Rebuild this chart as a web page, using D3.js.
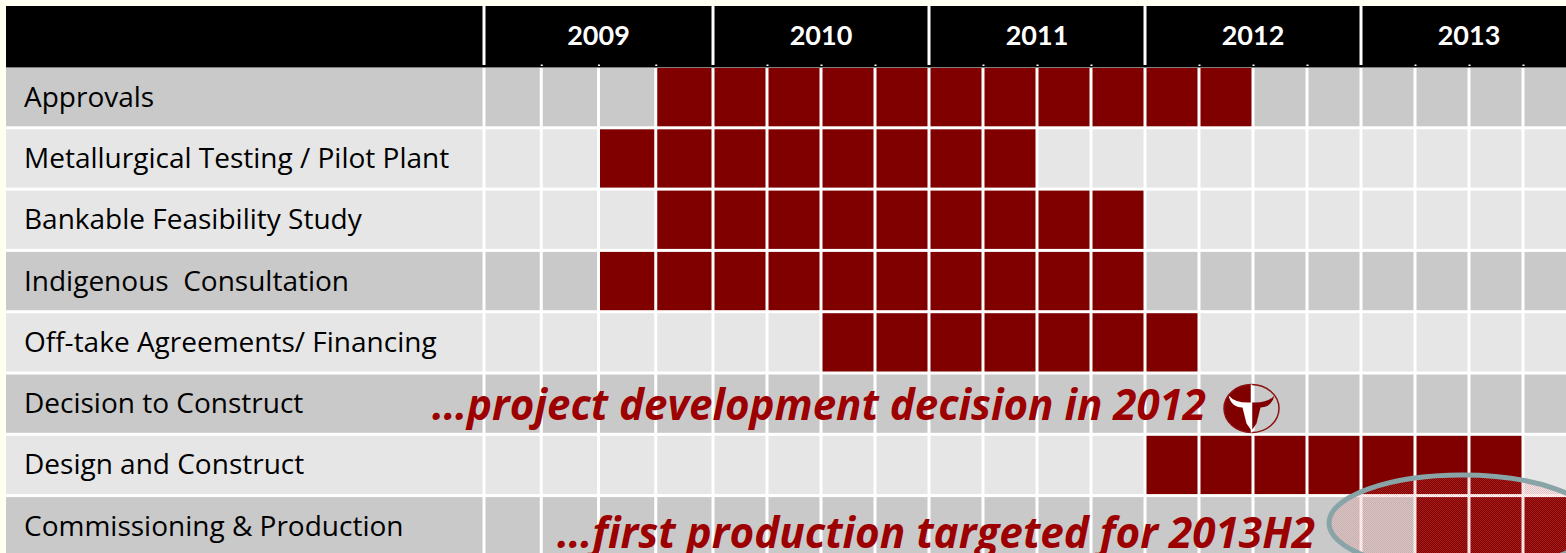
<!DOCTYPE html>
<html>
<head>
<meta charset="utf-8">
<style>
    body {
        margin: 0;
        background: #fffff2;
        overflow: hidden;
    }

    .label {
        font: 28px "Open Sans", sans-serif;
        fill: #000;
    }

    .year {
        font: bold 27px Lato, sans-serif;
        fill: #fff;
    }

    .note {
        font: italic bold 43px "Open Sans", sans-serif;
        fill: #9c0000;
    }

    .qtick line {
        stroke: #fff;
        stroke-width: 2px;
    }
</style>
</head>
<body>
<div id="chart"></div>
<script src="https://d3js.org/d3.v7.min.js"></script>
<script>

    // rows of the schedule
    var tasks = [
        "Approvals",
        "Metallurgical Testing / Pilot Plant",
        "Bankable Feasibility Study",
        "Indigenous  Consultation",
        "Off-take Agreements/ Financing",
        "Decision to Construct",
        "Design and Construct",
        "Commissioning & Production"
    ];

    // first quarter (0 = 2009 Q1) and end quarter (exclusive) of each bar
    var startQ = [3, 2, 3, 2, 6, null, 12, 17];
    var endQ   = [14, 10, 12, 12, 13, null, 19, 20];

    var years = ["2009", "2010", "2011", "2012", "2013"];
    var yearStartQ = [0, 4, 8, 12, 16];
    var quarters = d3.range(20);

    var notes = [
        "\u2026project development decision in 2012",
        "\u2026first production targeted for 2013H2"
    ];

    const W = 1566, H = 553;
    const gap = 3;

    const svg = d3.select("#chart")
        .append("svg")
        .attr("width", W)
        .attr("height", H);

    var defs = svg.append("defs");

    // dither used inside the highlight ellipse
    var pat = defs.append("pattern")
        .attr("id", "dither")
        .attr("patternUnits", "userSpaceOnUse")
        .attr("width", 2).attr("height", 2);
    pat.append("rect").attr("width", 1).attr("height", 1).attr("fill", "rgba(255,100,100,0.3)");
    pat.append("rect").attr("x", 1).attr("y", 1).attr("width", 1).attr("height", 1).attr("fill", "rgba(255,100,100,0.3)");

    // quarter boundaries -> x ; 2009 quarters are a little wider on the slide
    var x = d3.scaleLinear().domain([0, 4, 20]).range([484, 713, 1577]);

    var y = d3.scaleBand()
        .domain(tasks)
        .range([68, 555.4])
        .paddingInner(0.049)
        .paddingOuter(0);

    var shade = ["#c9c9c9", "#e6e6e6", "#e6e6e6", "#c9c9c9", "#e6e6e6", "#c9c9c9", "#e6e6e6", "#c9c9c9"];

    // white gaps underneath everything
    svg.append("rect")
        .attr("x", 6).attr("y", 6)
        .attr("width", W - 6).attr("height", H - 6)
        .attr("fill", "#fff");

    // header band
    svg.append("rect")
        .attr("x", 6).attr("y", 6)
        .attr("width", W - 6).attr("height", 61.5)
        .attr("fill", "#000");

    svg.selectAll(".ysep")
        .data(yearStartQ)
        .enter().append("rect")
        .attr("class", "ysep")
        .attr("x", function (d) { return x(d) - gap / 2; })
        .attr("y", 6)
        .attr("width", gap)
        .attr("height", 59)
        .attr("fill", "#fff");

    svg.selectAll(".year")
        .data(years)
        .enter().append("text")
        .attr("class", "year")
        .attr("x", function (d, i) { return (x(yearStartQ[i]) + x(yearStartQ[i] + 4)) / 2; })
        .attr("y", 45)
        .attr("text-anchor", "middle")
        .text(function (d) { return d; });

    // little quarter marks on the bottom of the header
    svg.append("g")
        .attr("class", "qtick")
        .attr("transform", "translate(0,66)")
        .call(d3.axisTop(x)
            .tickValues(quarters.filter(function (q) { return q % 4 !== 0; }))
            .tickSize(1.5)
            .tickFormat(""))
        .select(".domain").remove();

    // rows
    var row = svg.selectAll(".row")
        .data(tasks)
        .enter().append("g")
        .attr("class", "row");

    row.append("rect")
        .attr("x", 6)
        .attr("y", function (d) { return y(d); })
        .attr("width", x(0) - gap / 2 - 6)
        .attr("height", y.bandwidth())
        .attr("fill", function (d, i) { return shade[i]; });

    row.append("text")
        .attr("class", "label")
        .attr("x", 24)
        .attr("y", function (d) { return y(d) + y.bandwidth() / 2 + 9.5; })
        .attr("xml:space", "preserve")
        .style("white-space", "pre")
        .text(function (d) { return d; });

    row.each(function (d, i) {
        d3.select(this).selectAll(".cell")
            .data(quarters)
            .enter().append("rect")
            .attr("class", "cell")
            .attr("x", function (q) { return x(q) + gap / 2; })
            .attr("y", y(d))
            .attr("width", function (q) { return x(q + 1) - x(q) - gap; })
            .attr("height", y.bandwidth())
            .attr("fill", function (q) {
                return (startQ[i] !== null && q >= startQ[i] && q < endQ[i]) ? "#800000" : shade[i];
            });
    });

    // highlight on first production
    svg.append("ellipse")
        .attr("cx", 1462)
        .attr("cy", 523)
        .attr("rx", 133)
        .attr("ry", 48)
        .attr("fill", "url(#dither)")
        .attr("stroke", "#88a4a7")
        .attr("stroke-width", 5);

    // annotations
    svg.append("text")
        .attr("class", "note")
        .attr("x", 432)
        .attr("y", 420)
        .attr("textLength", 774)
        .attr("lengthAdjust", "spacingAndGlyphs")
        .text(notes[0]);

    svg.append("text")
        .attr("class", "note")
        .attr("x", 557)
        .attr("y", 548)
        .attr("textLength", 758)
        .attr("lengthAdjust", "spacingAndGlyphs")
        .text(notes[1]);

    // company mark next to the first note
    var logo = svg.append("g").attr("transform", "translate(1251.5,408.5)");
    defs.append("clipPath").attr("id", "lhalf")
        .append("rect").attr("x", -30).attr("y", -30).attr("width", 30).attr("height", 60);
    defs.append("clipPath").attr("id", "rhalf")
        .append("rect").attr("x", 0).attr("y", -30).attr("width", 30).attr("height", 60);

    var bull = "M-23,-13 Q-20,-1 -9,-1 L-5,15 L0,22 L5,15 L9,-1 Q20,-1 23,-13 Q16,-5 0,-6 Q-16,-5 -23,-13 Z";

    logo.append("ellipse")
        .attr("rx", 27.5).attr("ry", 24)
        .attr("fill", "#800000")
        .attr("clip-path", "url(#lhalf)");
    logo.append("path").attr("d", bull).attr("fill", "#fff").attr("clip-path", "url(#lhalf)");
    logo.append("path").attr("d", bull).attr("fill", "#800000").attr("clip-path", "url(#rhalf)");
    logo.append("ellipse")
        .attr("rx", 27.5).attr("ry", 24)
        .attr("fill", "none")
        .attr("stroke", "#8b1010")
        .attr("stroke-width", 1.5);
    logo.append("line")
        .attr("y1", -24).attr("y2", 24)
        .attr("stroke", "#fff")
        .attr("stroke-width", 1.5);

</script>
</body>
</html>
